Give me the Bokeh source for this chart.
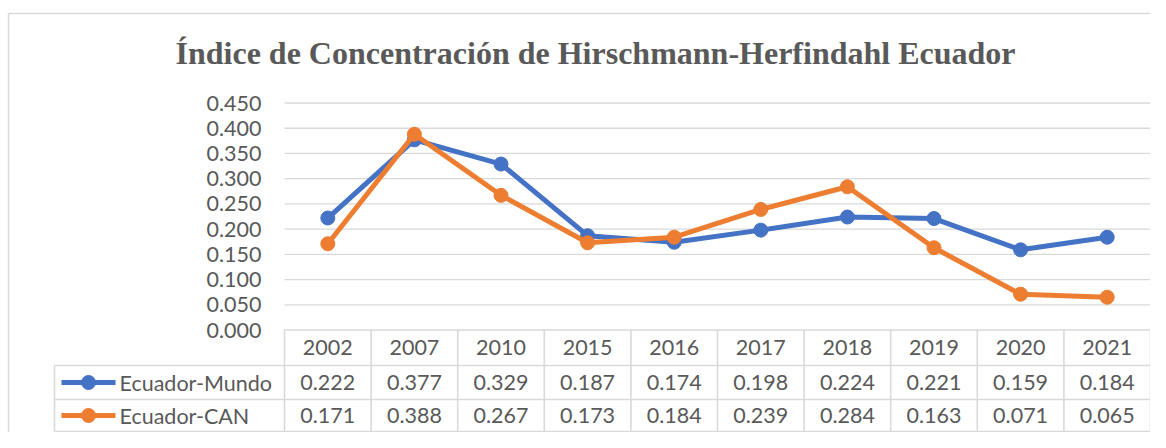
from bokeh.plotting import figure
from bokeh.models import Range1d, ColumnDataSource
from bokeh.core.properties import value
from bokeh.embed import file_html
from bokeh.resources import INLINE

title = "Índice de Concentración de Hirschmann-Herfindahl Ecuador"
years = ["2002", "2007", "2010", "2015", "2016", "2017", "2018", "2019", "2020", "2021"]
mundo = [0.222, 0.377, 0.329, 0.187, 0.174, 0.198, 0.224, 0.221, 0.159, 0.184]
can = [0.171, 0.388, 0.267, 0.173, 0.184, 0.239, 0.284, 0.163, 0.071, 0.065]
series_names = ["Ecuador-Mundo", "Ecuador-CAN"]
y_ticks = [0.0, 0.05, 0.10, 0.15, 0.20, 0.25, 0.30, 0.35, 0.40, 0.45]

BLUE = "#4472C4"
ORANGE = "#ED7D31"
TXT = "#595959"
GRID = "#D9D9D9"
FONT = "Lato"
FS = "21.5px"

W, H = 1150, 432
# layout: pixel -> data coords
X0, XS = 284.0, 86.6     # x pixel of category 0 left edge, px per category
Y0, YS = 329.5, 504.4    # y pixel of value 0, px per unit


def xp(px):
    return (px - X0) / XS


def yp(py):
    return (Y0 - py) / YS


p = figure(width=W, height=H, output_backend="svg", toolbar_location=None,
           x_range=Range1d(xp(0), xp(W)), y_range=Range1d(yp(H), yp(0)),
           min_border=0)
p.axis.visible = False
p.grid.visible = False
p.outline_line_color = None
p.background_fill_color = "white"
p.border_fill_color = "white"

n = len(years)
xs = [i + 0.5 for i in range(n)]

# outer chart border (top and left)
p.segment(x0=[xp(8), xp(8)], y0=[yp(13), yp(13)], x1=[xp(W + 20), xp(8)], y1=[yp(13), yp(H + 20)],
          line_color=GRID, line_width=1.5)

# title
p.text(x=[xp(595)], y=[yp(52)], text=[title], text_font=value("Liberation Serif"),
       text_font_style="bold", text_font_size="32px", text_color=TXT,
       text_align="center", text_baseline="middle")

# gridlines
gt = [t for t in y_ticks if t > 0]
p.segment(x0=[0] * len(gt), y0=gt, x1=[n] * len(gt), y1=gt, line_color=GRID, line_width=1.3)

# y tick labels
p.text(x=[xp(261)] * len(y_ticks), y=y_ticks, text=["%.3f" % t for t in y_ticks],
       text_font=value(FONT), text_font_size=FS, text_color=TXT,
       text_align="right", text_baseline="middle")

# data table grid
r_top, r1, r2, r3 = 329.5, 365, 399, 431
left = xp(54)
hx0 = [0, left, left, left]
hx1 = [n, n, n, n]
hy = [yp(r_top), yp(r1), yp(r2), yp(r3)]
p.segment(x0=hx0, y0=hy, x1=hx1, y1=hy, line_color=GRID, line_width=1.6)
vx = list(range(n + 1))
p.segment(x0=vx, y0=[yp(r_top)] * len(vx), x1=vx, y1=[yp(r3)] * len(vx),
          line_color=GRID, line_width=1.6)
p.segment(x0=[left], y0=[yp(r1)], x1=[left], y1=[yp(r3)], line_color=GRID, line_width=1.6)

# header row
p.text(x=xs, y=[yp((r_top + r1) / 2)] * n, text=years, text_font=value(FONT), text_font_size=FS,
       text_color=TXT, text_align="center", text_baseline="middle")

row_y = [yp((r1 + r2) / 2), yp((r2 + r3) / 2)]
for vals, name, col, ry in [(mundo, series_names[0], BLUE, row_y[0]),
                            (can, series_names[1], ORANGE, row_y[1])]:
    # series on chart
    src = ColumnDataSource(dict(x=xs, y=vals))
    p.line("x", "y", source=src, line_color=col, line_width=5)
    p.scatter("x", "y", source=src, size=14, fill_color=col, line_color=col)
    # table values
    p.text(x=xs, y=[ry] * n, text=["%.3f" % v for v in vals], text_font=value(FONT),
           text_font_size=FS, text_color=TXT, text_align="center", text_baseline="middle")
    # legend key
    p.line(x=[xp(61), xp(115)], y=[ry, ry], line_color=col, line_width=5)
    p.scatter(x=[xp(88)], y=[ry], size=14, fill_color=col, line_color=col)
    p.text(x=[xp(119)], y=[ry], text=[name], text_font=value(FONT), text_font_size=FS,
           text_color=TXT, text_align="left", text_baseline="middle")

open("out.html", "w").write(file_html(p, INLINE))
